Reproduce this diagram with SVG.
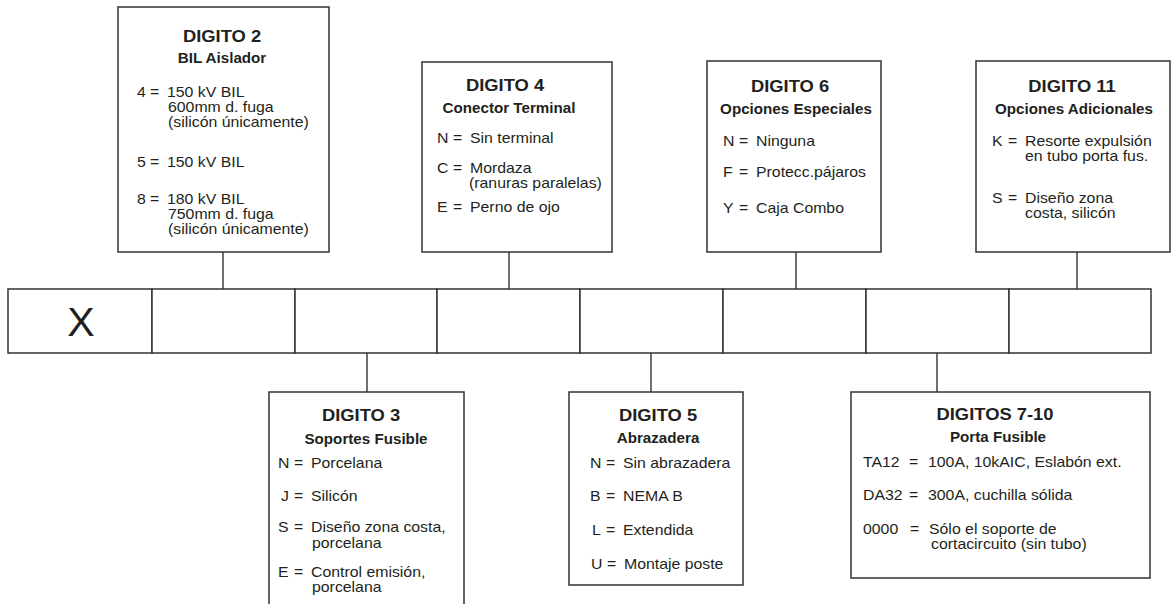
<svg xmlns="http://www.w3.org/2000/svg" width="1172" height="604" viewBox="0 0 1172 604">
<style>
  .box{fill:#fff;stroke:#333;stroke-width:1.5}
  .cell{fill:#fff;stroke:#333;stroke-width:1.5}
  .ln{stroke:#333;stroke-width:1.4;fill:none}
  text{font-family:"Liberation Sans",Arial,Helvetica,sans-serif;fill:#231f20}
  .t{font-size:16.7px;font-weight:bold;text-anchor:middle}
  .s{font-size:13.8px;font-weight:bold;text-anchor:middle}
  .b{font-size:14.4px}
  .x{font-size:41px;text-anchor:middle}
</style>
<rect width="1172" height="604" fill="#fff"/>

<g id="connectors">
  <line class="ln" x1="223" y1="252" x2="223" y2="289"/>
  <line class="ln" x1="509" y1="252" x2="509" y2="289"/>
  <line class="ln" x1="796" y1="252" x2="796" y2="289"/>
  <line class="ln" x1="1077" y1="252" x2="1077" y2="289"/>
  <line class="ln" x1="367" y1="353" x2="367" y2="392"/>
  <line class="ln" x1="651" y1="353" x2="651" y2="392"/>
  <line class="ln" x1="937" y1="353" x2="937" y2="392"/>
</g>

<g id="code-row">
  <rect class="cell" x="8" y="289" width="144" height="64"/>
  <rect class="cell" x="152" y="289" width="143" height="64"/>
  <rect class="cell" x="295" y="289" width="142" height="64"/>
  <rect class="cell" x="437" y="289" width="143" height="64"/>
  <rect class="cell" x="580" y="289" width="143" height="64"/>
  <rect class="cell" x="723" y="289" width="143" height="64"/>
  <rect class="cell" x="866" y="289" width="143" height="64"/>
  <rect class="cell" x="1009" y="289" width="142" height="64"/>
  <text class="x" x="81" y="336">X</text>
</g>

<g id="digito2">
  <rect class="box" x="118" y="7" width="211" height="245"/>
  <text class="t" transform="translate(222 42) scale(1.1 1)">DIGITO 2</text>
  <text class="s" transform="translate(222 63) scale(1.1 1)">BIL Aislador</text>
  <text class="b" transform="translate(137 97) scale(1.1 1)">4</text>
  <text class="b" transform="translate(150 97) scale(1.1 1)">=</text>
  <text class="b" transform="translate(167 97) scale(1.1 1)">150 kV BIL</text>
  <text class="b" transform="translate(168 112) scale(1.1 1)">600mm d. fuga</text>
  <text class="b" transform="translate(168 127) scale(1.1 1)">(silicón únicamente)</text>
  <text class="b" transform="translate(137 167) scale(1.1 1)">5</text>
  <text class="b" transform="translate(150 167) scale(1.1 1)">=</text>
  <text class="b" transform="translate(167 167) scale(1.1 1)">150 kV BIL</text>
  <text class="b" transform="translate(137 204) scale(1.1 1)">8</text>
  <text class="b" transform="translate(150 204) scale(1.1 1)">=</text>
  <text class="b" transform="translate(167 204) scale(1.1 1)">180 kV BIL</text>
  <text class="b" transform="translate(168 219) scale(1.1 1)">750mm d. fuga</text>
  <text class="b" transform="translate(168 234) scale(1.1 1)">(silicón únicamente)</text>
</g>

<g id="digito4">
  <rect class="box" x="422" y="62" width="190" height="190"/>
  <text class="t" transform="translate(505 91) scale(1.1 1)">DIGITO 4</text>
  <text class="s" transform="translate(509 113) scale(1.1 1)">Conector Terminal</text>
  <text class="b" transform="translate(437 143) scale(1.1 1)">N</text>
  <text class="b" transform="translate(453 143) scale(1.1 1)">=</text>
  <text class="b" transform="translate(470 143) scale(1.1 1)">Sin terminal</text>
  <text class="b" transform="translate(437 173) scale(1.1 1)">C</text>
  <text class="b" transform="translate(453 173) scale(1.1 1)">=</text>
  <text class="b" transform="translate(470 173) scale(1.1 1)">Mordaza</text>
  <text class="b" transform="translate(469 188) scale(1.1 1)">(ranuras paralelas)</text>
  <text class="b" transform="translate(437 212) scale(1.1 1)">E</text>
  <text class="b" transform="translate(453 212) scale(1.1 1)">=</text>
  <text class="b" transform="translate(470 212) scale(1.1 1)">Perno de ojo</text>
</g>

<g id="digito6">
  <rect class="box" x="707" y="61" width="174" height="191"/>
  <text class="t" transform="translate(790 92) scale(1.1 1)">DIGITO 6</text>
  <text class="s" transform="translate(796 114) scale(1.1 1)">Opciones Especiales</text>
  <text class="b" transform="translate(723 146) scale(1.1 1)">N</text>
  <text class="b" transform="translate(739 146) scale(1.1 1)">=</text>
  <text class="b" transform="translate(756 146) scale(1.1 1)">Ninguna</text>
  <text class="b" transform="translate(723 177) scale(1.1 1)">F</text>
  <text class="b" transform="translate(739 177) scale(1.1 1)">=</text>
  <text class="b" transform="translate(756 177) scale(1.1 1)">Protecc.pájaros</text>
  <text class="b" transform="translate(723 213) scale(1.1 1)">Y</text>
  <text class="b" transform="translate(739 213) scale(1.1 1)">=</text>
  <text class="b" transform="translate(756 213) scale(1.1 1)">Caja Combo</text>
</g>

<g id="digito11">
  <rect class="box" x="976" y="61" width="194" height="191"/>
  <text class="t" transform="translate(1072 92) scale(1.1 1)">DIGITO 11</text>
  <text class="s" transform="translate(1074 114) scale(1.1 1)">Opciones Adicionales</text>
  <text class="b" transform="translate(992 146) scale(1.1 1)">K</text>
  <text class="b" transform="translate(1008 146) scale(1.1 1)">=</text>
  <text class="b" transform="translate(1025 146) scale(1.1 1)">Resorte expulsión</text>
  <text class="b" transform="translate(1025 161) scale(1.1 1)">en tubo porta fus.</text>
  <text class="b" transform="translate(992 203) scale(1.1 1)">S</text>
  <text class="b" transform="translate(1008 203) scale(1.1 1)">=</text>
  <text class="b" transform="translate(1025 203) scale(1.1 1)">Diseño zona</text>
  <text class="b" transform="translate(1025 218) scale(1.1 1)">costa, silicón</text>
</g>

<g id="digito3">
  <rect class="box" x="269" y="392" width="195" height="220"/>
  <text class="t" transform="translate(361 421) scale(1.1 1)">DIGITO 3</text>
  <text class="s" transform="translate(366 444) scale(1.1 1)">Soportes Fusible</text>
  <text class="b" transform="translate(278 468) scale(1.1 1)">N</text>
  <text class="b" transform="translate(294 468) scale(1.1 1)">=</text>
  <text class="b" transform="translate(311 468) scale(1.1 1)">Porcelana</text>
  <text class="b" transform="translate(281 501) scale(1.1 1)">J</text>
  <text class="b" transform="translate(294 501) scale(1.1 1)">=</text>
  <text class="b" transform="translate(311 501) scale(1.1 1)">Silicón</text>
  <text class="b" transform="translate(278 532) scale(1.1 1)">S</text>
  <text class="b" transform="translate(294 532) scale(1.1 1)">=</text>
  <text class="b" transform="translate(311 532) scale(1.1 1)">Diseño zona costa,</text>
  <text class="b" transform="translate(312 548) scale(1.1 1)">porcelana</text>
  <text class="b" transform="translate(278 577) scale(1.1 1)">E</text>
  <text class="b" transform="translate(294 577) scale(1.1 1)">=</text>
  <text class="b" transform="translate(311 577) scale(1.1 1)">Control emisión,</text>
  <text class="b" transform="translate(312 592) scale(1.1 1)">porcelana</text>
</g>

<g id="digito5">
  <rect class="box" x="569" y="392" width="174" height="193"/>
  <text class="t" transform="translate(658 421) scale(1.1 1)">DIGITO 5</text>
  <text class="s" transform="translate(658 443) scale(1.1 1)">Abrazadera</text>
  <text class="b" transform="translate(590 468) scale(1.1 1)">N</text>
  <text class="b" transform="translate(606 468) scale(1.1 1)">=</text>
  <text class="b" transform="translate(623 468) scale(1.1 1)">Sin abrazadera</text>
  <text class="b" transform="translate(590 501) scale(1.1 1)">B</text>
  <text class="b" transform="translate(606 501) scale(1.1 1)">=</text>
  <text class="b" transform="translate(623 501) scale(1.1 1)">NEMA B</text>
  <text class="b" transform="translate(592 535) scale(1.1 1)">L</text>
  <text class="b" transform="translate(606 535) scale(1.1 1)">=</text>
  <text class="b" transform="translate(623 535) scale(1.1 1)">Extendida</text>
  <text class="b" transform="translate(591 569) scale(1.1 1)">U</text>
  <text class="b" transform="translate(607 569) scale(1.1 1)">=</text>
  <text class="b" transform="translate(624 569) scale(1.1 1)">Montaje poste</text>
</g>

<g id="digitos7-10">
  <rect class="box" x="851" y="392" width="299" height="186"/>
  <text class="t" transform="translate(995 420) scale(1.1 1)">DIGITOS 7-10</text>
  <text class="s" transform="translate(998 442) scale(1.1 1)">Porta Fusible</text>
  <text class="b" transform="translate(863 467) scale(1.1 1)">TA12</text>
  <text class="b" transform="translate(909 467) scale(1.1 1)">=</text>
  <text class="b" transform="translate(928 467) scale(1.1 1)">100A, 10kAIC, Eslabón ext.</text>
  <text class="b" transform="translate(863 500) scale(1.1 1)">DA32</text>
  <text class="b" transform="translate(909 500) scale(1.1 1)">=</text>
  <text class="b" transform="translate(928 500) scale(1.1 1)">300A, cuchilla sólida</text>
  <text class="b" transform="translate(863 534) scale(1.1 1)">0000</text>
  <text class="b" transform="translate(910 534) scale(1.1 1)">=</text>
  <text class="b" transform="translate(929 534) scale(1.1 1)">Sólo el soporte de</text>
  <text class="b" transform="translate(931 549) scale(1.1 1)">cortacircuito (sin tubo)</text>
</g>
</svg>
